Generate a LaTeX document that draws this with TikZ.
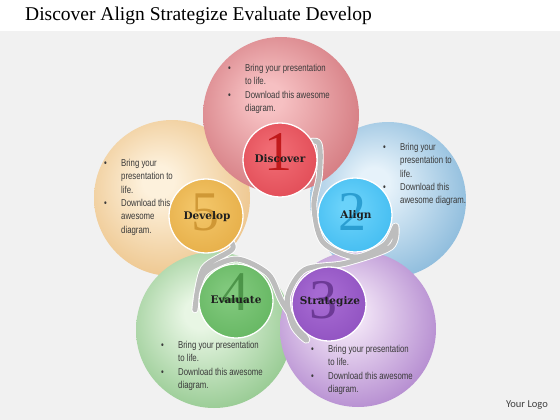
\documentclass[tikz,border=0pt]{standalone}
\usepackage{fontspec}
\setmainfont{Liberation Serif}
\newfontfamily\notefont{Liberation Sans}[FakeStretch=0.78]
\newfontfamily\labelfont{DejaVu Serif}
\newfontfamily\logofont{Carlito}
\usepackage{tikz}
\usetikzlibrary{calc}
\usetikzlibrary{backgrounds}
\pgfdeclarelayer{back}
\pgfdeclarelayer{mid}
\pgfsetlayers{back,mid,main}

\definecolor{paper}{HTML}{F1F1F1}
\definecolor{redin}{HTML}{F6C0C2}\definecolor{redout}{HTML}{B8414A}
\definecolor{bluein}{HTML}{E6F2FA}\definecolor{blueout}{HTML}{3F8CC2}
\definecolor{orangein}{HTML}{FDF1DC}\definecolor{orangeout}{HTML}{E0A048}
\definecolor{greenin}{HTML}{E8F6E4}\definecolor{greenout}{HTML}{4FA44A}
\definecolor{purplein}{HTML}{F3E6F7}\definecolor{purpleout}{HTML}{7E3DAE}
\definecolor{redA}{HTML}{F06A72}\definecolor{redB}{HTML}{D3303D}
\definecolor{blueA}{HTML}{6AD2FA}\definecolor{blueB}{HTML}{1EA8E8}
\definecolor{purpleA}{HTML}{A66AD2}\definecolor{purpleB}{HTML}{7B3BB0}
\definecolor{greenA}{HTML}{80C87C}\definecolor{greenB}{HTML}{4CA649}
\definecolor{orangeA}{HTML}{F2C466}\definecolor{orangeB}{HTML}{DB9A2C}
\definecolor{ribbongray}{HTML}{BDBDBD}
\definecolor{notegray}{HTML}{3A3A3A}

\colorlet{ballin}{white}
\colorlet{ballmid}{gray}
\colorlet{ballout}{gray}
\pgfdeclareradialshading[ballin,ballmid,ballout]{ball}{\pgfpoint{-5bp}{6bp}}{color(0bp)=(ballin); color(5bp)=(ballin); color(30bp)=(ballmid); color(46bp)=(ballout); color(50bp)=(ballout)}

\newcommand{\notes}[2]{\begin{tabular}{@{}p{17pt}@{}l@{}}\textbullet & #1\\ \textbullet & #2\end{tabular}}

\tikzset{
  bigball/.style 2 args={circle, minimum size=156pt, inner sep=0pt, /utils/exec={\colorlet{ballin}{#1}\colorlet{ballmid}{#2!55!#1}\colorlet{ballout}{#2}}, shading=ball},
  smallball/.style 2 args={circle, minimum size=74pt, inner sep=0pt, draw=white, line width=1.3pt, /utils/exec={\colorlet{ballin}{#1}\colorlet{ballmid}{#2!50!#1}\colorlet{ballout}{#2}}, shading=ball},
  lbl/.style={font=\labelfont\bfseries\fontsize{10.5}{12}\selectfont, text=black!88, text height=1.5ex, text depth=.25ex, inner sep=0pt},
  digit/.style={font=\fontsize{56}{56}\selectfont, text opacity=0.75, inner sep=0pt},
  note/.style={anchor=north west, inner sep=0pt, font=\notefont\fontsize{10}{13.3}\selectfont, text=notegray},
  ribbon/.style={draw=white, line width=0.9pt, double=ribbongray, double distance=5pt, line join=round}
}

\begin{document}
\begin{tikzpicture}[x=1pt,y=-1pt]
\useasboundingbox (0,0) rectangle (560,420);

\begin{pgfonlayer}{back}
\fill[white] (0,0) rectangle (560,420);
\fill[paper] (0,31) rectangle (560,420);
% big circles
\node[bigball={orangein}{orangeout}] (develbig) at (172,198) {};
\node[bigball={bluein}{blueout}] (alignbig) at (388,200) {};
\node[bigball={greenin}{greenout}] (evalbig) at (214,330) {};
\node[bigball={purplein}{purpleout}] (stratbig) at (358,329) {};
\node[bigball={redin}{redout}] (discbig) at (281,115) {};
\end{pgfonlayer}

% small circles
\node[smallball={redA}{redB}] (disc) at (280,160) {};
\node[smallball={blueA}{blueB}] (align) at (355,215) {};
\node[smallball={purpleA}{purpleB}] (strat) at (329,304) {};
\node[smallball={greenA}{greenB}] (eval) at (236,301) {};
\node[smallball={orangeA}{orangeB}] (devel) at (206,216) {};

\node[digit, text=red!70!black] (one) at (278,152) {1};
\node[digit, text=blueB!85!black] (two) at (352,212) {2};
\node[digit, text=purpleB!75!black] (three) at (323,300) {3};
\node[digit, text=greenB!80!black] (four) at (235,292) {4};
\node[digit, text=orangeB!90!black] (five) at (205,212) {5};

\node[lbl] (discl) at (280,160) {Discover};
\node[lbl] (alignl) at (356,216) {Align};
\node[lbl] (stratl) at (330,302) {Strategize};
\node[lbl] (evall) at (236,301) {Evaluate};
\node[lbl] (devell) at (207,217) {Develop};

% ribbon weaving through the small circles
\begin{pgfonlayer}{mid}
\coordinate (r0) at ($(disc.center)!20pt!(disc.45)$);
\coordinate (r1) at ($(disc.center)!42pt!(disc.25)$);
\coordinate (r2) at ($(disc.center)!42pt!(disc.-20)$);
\coordinate (r3) at ($(align.center)!42pt!(align.168)$);
\coordinate (r4) at ($(align.center)!42pt!(align.220)$);
\coordinate (r5) at ($(align.center)!42pt!(align.270)$);
\coordinate (r6) at ($(align.center)!42pt!(align.315)$);
\coordinate (r7) at ($(align.center)!42pt!(align.345)$);
\coordinate (r8) at ($(align.center)!48pt!(align.318)$);
\coordinate (r9) at ($(strat.center)!44pt!(strat.68)$);
\coordinate (r10) at ($(strat.center)!42pt!(strat.125)$);
\coordinate (r11) at ($(strat.center)!42pt!(strat.170)$);
\coordinate (r12) at ($(strat.center)!42pt!(strat.212)$);
\coordinate (r13) at ($(strat.center)!42pt!(strat.238)$);
\coordinate (r14) at ($(eval)!0.5!(strat)$);
\coordinate (r15) at ($(eval.center)!42pt!(eval.40)$);
\coordinate (r16) at ($(eval.center)!42pt!(eval.90)$);
\coordinate (r17) at ($(eval.center)!42pt!(eval.140)$);
\coordinate (r18) at ($(eval.center)!42pt!(eval.192)$);
\coordinate (r19) at ($(eval.center)!46pt!(eval.135)$);
\coordinate (r20) at ($(devel.center)!42pt!(devel.-50)$);
\coordinate (r21) at ($(devel.center)!20pt!(devel.-45)$);
\draw[ribbon] plot[smooth, tension=0.5] coordinates {(r0) (r1) (r2) (r3) (r4) (r5) (r6) (r7) (r8) (r9) (r10) (r11) (r12) (r13) (r14) (r15) (r16) (r17) (r18) (r19) (r20) (r21)};
\end{pgfonlayer}

% texts
\node[note] (discnote) at (228,62) {\notes{Bring your presentation\\ & to life.}{Download this awesome\\ & diagram.}};
\node[note] (alignnote) at (383,141) {\notes{Bring your\\ & presentation to\\ & life.}{Download this\\ & awesome diagram.}};
\node[note] (develnote) at (104,157) {\notes{Bring your\\ & presentation to\\ & life.}{Download this\\ & awesome\\ & diagram.}};
\node[note] (evalnote) at (161,339) {\notes{Bring your presentation\\ & to life.}{Download this awesome\\ & diagram.}};
\node[note] (stratnote) at (311,343) {\notes{Bring your presentation\\ & to life.}{Download this awesome\\ & diagram.}};

\node[anchor=base west, inner sep=0pt, font=\fontsize{19.5}{22}\selectfont] (title) at (25,21) {Discover Align Strategize Evaluate Develop};
\node[inner sep=0pt, font=\logofont\fontsize{10.5}{12}\selectfont, text=black!75] (logo) at (527,405) {Your Logo};
\end{tikzpicture}
\end{document}
